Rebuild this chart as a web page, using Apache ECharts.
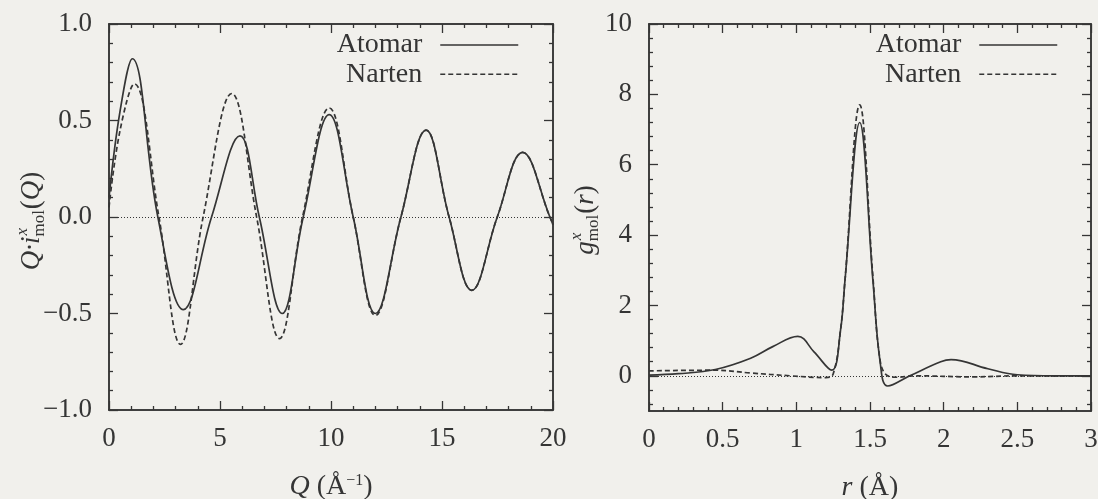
<!DOCTYPE html>
<html>
<head>
<meta charset="utf-8">
<title>Atomar / Narten</title>
<script src="https://cdn.jsdelivr.net/npm/echarts@6/dist/echarts.min.js"></script>
<style>
  html, body { margin: 0; padding: 0; background: #f1f0ec; }
  #chart { width: 1098px; height: 499px; }
</style>
</head>
<body>
<div id="chart"></div>
<script>
// linkes Bild: Q * i(Q)
var qAtomar = [[0, 0.1], [0.5, 0.55], [1.05, 0.82], [2.2, 0], [3.35, -0.48], [4.62, 0], [5.9, 0.42], [6.77, 0],
  [7.8, -0.5], [8.75, 0], [9.92, 0.53], [11.0, 0], [12.0, -0.5], [13.15, 0], [14.28, 0.45], [15.32, 0],
  [16.34, -0.38], [17.49, 0], [18.63, 0.335], [19.86, 0], [20, -0.04]];
var qNarten = [[0, 0.05], [0.5, 0.45], [1.14, 0.69], [2.25, 0], [3.22, -0.66], [4.24, 0], [5.53, 0.64], [6.65, 0],
  [7.68, -0.63], [8.72, 0], [9.92, 0.565], [11.0, 0], [12.0, -0.51], [13.15, 0], [14.28, 0.45], [15.32, 0],
  [16.34, -0.38], [17.49, 0], [18.63, 0.335], [19.86, 0], [20, -0.04]];

// rechtes Bild: g(r)
var rAtomar = [[0, 0.02], [0.2, 0.06], [0.45, 0.18], [0.69, 0.5], [0.84, 0.83], [1.01, 1.12], [1.12, 0.68],
  [1.24, 0.16], [1.3, 1.3], [1.33, 2.7], [1.43, 7.2], [1.52, 2.7], [1.57, 0.35], [1.62, -0.29], [1.77, 0],
  [1.98, 0.4], [2.05, 0.46], [2.3, 0.2], [2.5, 0.03], [2.75, 0], [3, 0]];
var rNarten = [[0, 0.14], [0.45, 0.16], [0.69, 0.08], [0.96, 0.0], [1.2, -0.05], [1.25, 0.05], [1.3, 1.3],
  [1.33, 2.7], [1.43, 7.7], [1.52, 2.8], [1.57, 0.4], [1.62, 0.0], [1.68, -0.04], [1.8, 0], [2.2, -0.03],
  [2.5, 0], [3, 0]];

// Achsen: Hauptstriche mit Beschriftung
var qTicks = [0, 5, 10, 15, 20];
var qLabels = ['0', '5', '10', '15', '20'];
var iTicks = [-1, -0.5, 0, 0.5, 1];
var iLabels = ['\u22121.0', '\u22120.5', '0.0', '0.5', '1.0'];
var rTicks = [0, 0.5, 1, 1.5, 2, 2.5, 3];
var rLabels = ['0', '0.5', '1', '1.5', '2', '2.5', '3'];
var gTicks = [0, 2, 4, 6, 8, 10];
var gLabels = ['0', '2', '4', '6', '8', '10'];

var ink = '#353535';
var serif = 'Liberation Serif';

// kleine Striche zwischen den Hauptstrichen
function minorTicks(min, max, majors, step) {
  var out = [];
  var k0 = -Math.floor((majors[0] - min) / step + 1e-6);
  var k1 = Math.floor((max - majors[0]) / step + 1e-6);
  for (var k = k0; k <= k1; k++) {
    var v = Math.round((majors[0] + k * step) * 1e6) / 1e6;
    var isMajor = majors.some(function (m) { return Math.abs(m - v) < 1e-6; });
    if (!isMajor) out.push(v);
  }
  return out;
}

// vier Achsen je Richtung: unten/oben bzw. links/rechts, jeweils Haupt- und Nebenstriche
function makeAxes(grid, isX, min, max, majors, labels, step, margin) {
  var minors = minorTicks(min, max, majors, step);
  var sides = isX ? ['bottom', 'top'] : ['left', 'right'];
  var res = [];
  sides.forEach(function (side, si) {
    [true, false].forEach(function (major) {
      res.push({
        type: 'value',
        gridIndex: grid,
        position: side,
        min: min,
        max: max,
        splitLine: { show: false },
        axisLine: { show: true, onZero: false, lineStyle: { color: ink, width: 1.5 } },
        axisTick: {
          show: true, inside: true, length: major ? 9 : 4,
          customValues: major ? majors : minors,
          lineStyle: { color: ink, width: 1.3 }
        },
        axisLabel: {
          show: major && si === 0,
          customValues: majors,
          margin: margin,
          color: ink,
          fontFamily: serif,
          fontSize: 27,
          formatter: function (v) {
            for (var i = 0; i < majors.length; i++) {
              if (Math.abs(majors[i] - v) < 1e-9) return labels[i];
            }
            return '';
          }
        }
      });
    });
  });
  return res;
}

var xAxes = makeAxes(0, true, 0, 20, qTicks, qLabels, 1, 15)
  .concat(makeAxes(1, true, 0, 3, rTicks, rLabels, 0.1, 15));
var yAxes = makeAxes(0, false, -1, 1, iTicks, iLabels, 0.1, 17)
  .concat(makeAxes(1, false, -1, 10, gTicks, gLabels, 0.4, 17));

// Achsentitel der x-Achsen
xAxes[0].name = '{i|Q} (\u00c5{s|\u22121})';
xAxes[4].name = '{i|r} (\u00c5)';
[0, 4].forEach(function (k) {
  xAxes[k].nameLocation = 'middle';
  xAxes[k].nameGap = 63;
  xAxes[k].nameTextStyle = {
    color: ink, fontFamily: serif, fontSize: 28,
    rich: {
      i: { fontFamily: serif, fontSize: 28, fontStyle: 'italic', color: ink },
      s: { fontFamily: serif, fontSize: 16, color: ink, verticalAlign: 'top', lineHeight: 20 }
    }
  };
});

// Breite eines Textes messen
var ctx = document.createElement('canvas').getContext('2d');
function textWidth(t, font) { ctx.font = font; return ctx.measureText(t).width; }

// senkrechter Achsentitel mit x hochgestellt und mol tiefgestellt
function yTitle(cx, cy, head, arg) {
  var big = 27, small = 17;
  var fIt = 'italic ' + big + 'px "' + serif + '"';
  var fRm = big + 'px "' + serif + '"';
  var fSmIt = 'italic ' + small + 'px "' + serif + '"';
  var fSm = small + 'px "' + serif + '"';
  var w1 = textWidth(head, fIt);
  var wMol = textWidth('mol', fSm);
  var wArg = textWidth('(', fRm) * 2 + textWidth(arg, fIt);
  var total = w1 + wMol + 1 + wArg;
  return {
    type: 'group',
    x: cx,
    y: cy + total / 2,
    rotation: Math.PI / 2,
    children: [
      { type: 'text', x: 0, y: 0, style: { text: head, font: fIt, fill: ink, verticalAlign: 'middle' } },
      { type: 'text', x: w1 + 1, y: -9, style: { text: 'x', font: fSmIt, fill: ink, verticalAlign: 'middle' } },
      { type: 'text', x: w1, y: 8, style: { text: 'mol', font: fSm, fill: ink, verticalAlign: 'middle' } },
      {
        type: 'text', x: w1 + wMol + 1, y: 0,
        style: {
          text: '({a|' + arg + '})', font: fRm, fill: ink, verticalAlign: 'middle',
          rich: { a: { font: fIt, fill: ink } }
        }
      }
    ]
  };
}

function legendFor(right) {
  return {
    data: ['Atomar', 'Narten'],
    orient: 'vertical',
    align: 'right',
    right: right,
    top: 31,
    padding: 0,
    itemGap: 1.3,
    itemWidth: 78,
    itemHeight: 14,
    selectedMode: false,
    itemStyle: { opacity: 0 },
    lineStyle: { width: 1.5 },
    textStyle: { color: ink, fontFamily: serif, fontSize: 28, lineHeight: 28, padding: [0, 13, 0, 0] }
  };
}

function curve(name, data, grid, dashed, zeroLine) {
  var s = {
    name: name,
    type: 'line',
    xAxisIndex: grid * 4,
    yAxisIndex: grid * 4,
    data: data,
    symbol: 'none',
    showSymbol: false,
    smooth: 0.4,
    lineStyle: { color: ink, width: 1.7, type: dashed ? [5, 3] : 'solid' },
    itemStyle: { color: ink },
    silent: true,
    z: dashed ? 3 : 2
  };
  if (zeroLine) {
    s.markLine = {
      silent: true,
      symbol: ['none', 'none'],
      label: { show: false },
      lineStyle: { color: ink, width: 1, type: [1, 2] },
      data: [{ yAxis: 0 }],
      animation: false
    };
  }
  return s;
}

var myChart = echarts.init(document.getElementById('chart'));
var options = {
  animation: false,
  backgroundColor: '#f1f0ec',
  grid: [
    { left: 109, top: 24, width: 444, height: 386, outerBoundsMode: 'none' },
    { left: 649, top: 24, width: 442, height: 387, outerBoundsMode: 'none' }
  ],
  legend: [legendFor(579), legendFor(40)],
  xAxis: xAxes,
  yAxis: yAxes,
  graphic: [
    yTitle(32, 221, 'Q\u00b7i', 'Q'),
    yTitle(586, 220, 'g', 'r')
  ],
  series: [
    curve('Atomar', qAtomar, 0, false, true),
    curve('Narten', qNarten, 0, true, false),
    curve('Atomar', rAtomar, 1, false, true),
    curve('Narten', rNarten, 1, true, false)
  ]
};
myChart.setOption(options);
</script>
</body>
</html>
